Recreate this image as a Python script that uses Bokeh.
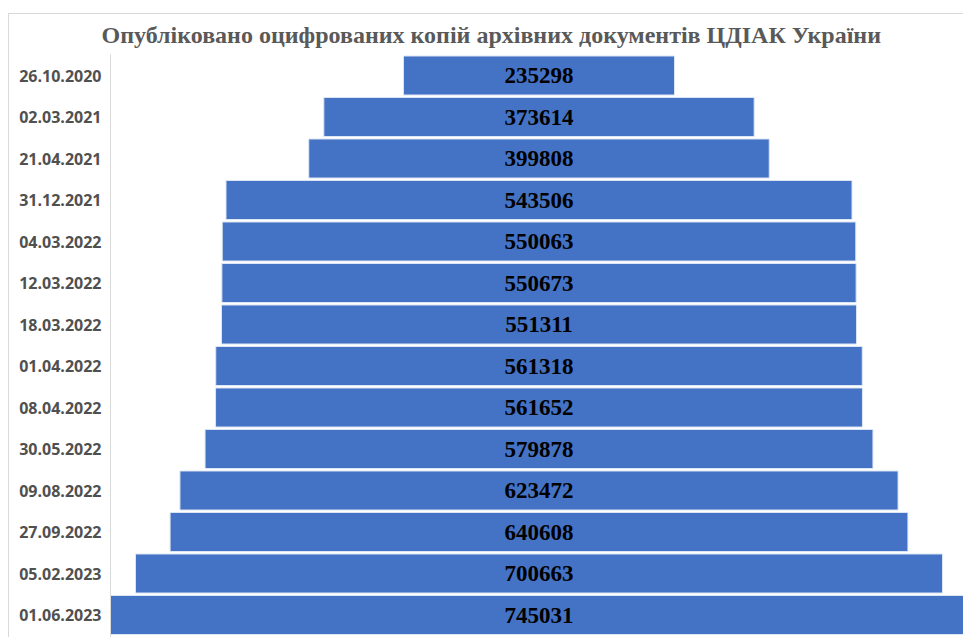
from bokeh.plotting import figure
from bokeh.models import Range1d, FixedTicker, ColumnDataSource, InlineStyleSheet
from bokeh.core.properties import value
from bokeh.embed import file_html
from bokeh.resources import INLINE

title_text = "Опубліковано оцифрованих копій архівних  документів ЦДІАК України"
dates = ["26.10.2020", "02.03.2021", "21.04.2021", "31.12.2021", "04.03.2022",
         "12.03.2022", "18.03.2022", "01.04.2022", "08.04.2022", "30.05.2022",
         "09.08.2022", "27.09.2022", "05.02.2023", "01.06.2023"]
counts = [235298, 373614, 399808, 543506, 550063, 550673, 551311, 561318,
          561652, 579878, 623472, 640608, 700663, 745031]

rows = list(range(len(dates)))
src = ColumnDataSource(dict(
    y=rows,
    left=[-c / 2 for c in counts],
    right=[c / 2 for c in counts],
    label=[str(c) for c in counts],
    x=[0] * len(counts),
))

W, H = 963, 637
LEFT = 110
TOP = 50
upx = 868.23          # data units per pixel horizontally
cx = 538.5            # bar centre in figure pixels
row0 = 75             # first row centre in figure pixels
pitch = 41.5


def dx(px):
    return (px - cx) * upx


def dy(py):
    return (py - row0) / pitch


p = figure(width=W, height=H, output_backend="svg", toolbar_location=None,
           x_range=Range1d(dx(LEFT), dx(W)), y_range=Range1d(dy(H), dy(TOP)),
           min_border_left=LEFT, min_border_right=0, min_border_top=TOP,
           min_border_bottom=0)
p.outline_line_color = None
p.xaxis.visible = False
p.xgrid.visible = False
p.ygrid.visible = False
p.stylesheets = [InlineStyleSheet(css=(
    ".bk-Canvas::after { content: ''; position: absolute; left: 8px; top: 13px; "
    "right: 0px; bottom: 0px; border-top: 1px solid #d9d9d9; "
    "border-left: 1px solid #d9d9d9; pointer-events: none; z-index: 5; }"))]

p.title.text = title_text
p.title.align = "left"
p.title.offset = -9
p.title.text_font = "Liberation Serif"
p.title.text_font_style = "bold"
p.title.text_font_size = "24px"
p.title.text_color = "#595959"
p.title.standoff = 5

p.hbar(y="y", left="left", right="right", height=0.94, source=src,
       fill_color="#4472C4", line_color="#dce5f4", line_width=1)
p.text(x="x", y="y", text="label", source=src, text_align="center",
       text_baseline="middle", text_font=value("Liberation Serif"),
       text_font_style="bold", text_font_size="23px", text_color="#000000")

yax = p.yaxis[0]
yax.ticker = FixedTicker(ticks=rows)
yax.major_label_overrides = {i: d for i, d in zip(rows, dates)}
yax.axis_line_color = "#d9d9d9"
yax.axis_line_width = 1
yax.bounds = (dy(54), dy(H))
yax.major_tick_line_color = None
yax.minor_tick_line_color = None
yax.major_tick_out = 0
yax.major_tick_in = 0
yax.major_label_standoff = 9
yax.major_label_text_font = "Open Sans"
yax.major_label_text_font_style = "bold"
yax.major_label_text_font_size = "16px"
yax.major_label_text_color = "#505050"

open("out.html", "w").write(file_html(p, INLINE))
